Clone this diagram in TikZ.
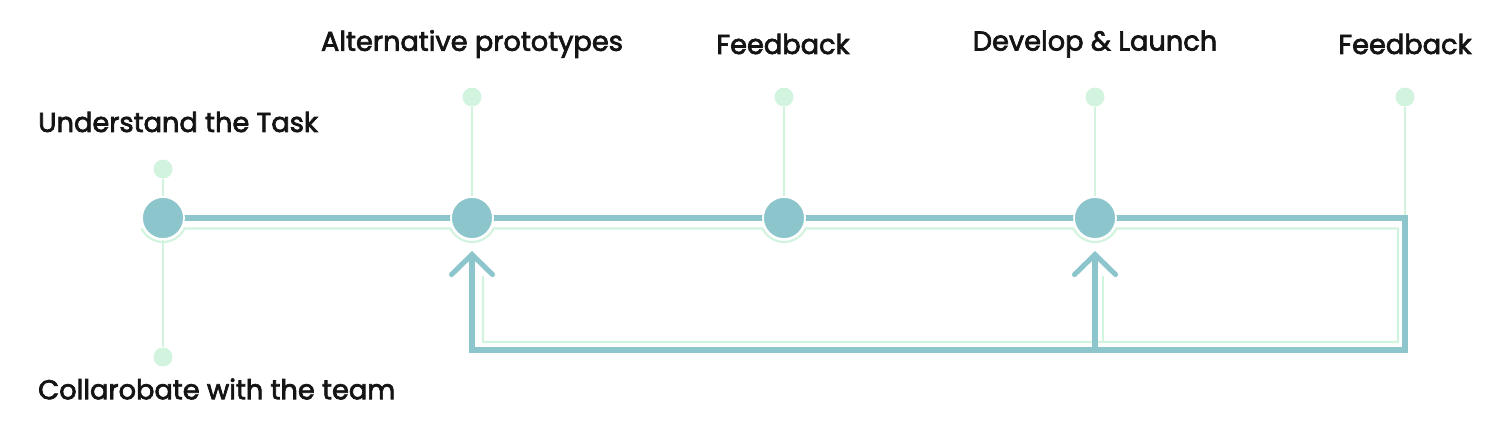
\documentclass[tikz,border=0pt]{standalone}
\usepackage{fontspec}
\setmainfont{Poppins}[FakeBold=2.6]
\usetikzlibrary{arrows.meta,backgrounds}
\definecolor{petrol}{RGB}{140,198,204}
\definecolor{mint}{RGB}{210,243,222}
\def \radiusBogen {0.48cm}
\def \pfeilSpitze {Straight Barb[length=0.4cm,width=0.82cm,line cap=round]}

\begin{document}
\begin{tikzpicture}[x=0.02cm,y=-0.02cm,
  punkt/.style={circle,fill=petrol,draw=white,line width=1pt,minimum size=0.84cm,inner sep=0pt},
  tupfen/.style={circle,fill=mint,minimum size=0.38cm,inner sep=0pt},
  titel/.style={font=\fontsize{15.5}{18}\selectfont,text=black!92},
  dick/.style={draw=petrol,line width=2.9pt},
  duenn/.style={draw=mint,line width=1.2pt}]
  \useasboundingbox (0,0) rectangle (1510,433);
  % Haltepunkte auf der Zeitachse
  \node[punkt] (task) at (163,218) {};
  \node[punkt] (proto) at (472,218) {};
  \node[punkt] (fb-eins) at (784,218) {};
  \node[punkt] (launch) at (1095,218) {};
  % kleine Tupfen an den Stielen
  \node[tupfen] (task-oben) at (163,169) {};
  \node[tupfen] (task-unten) at (163,357) {};
  \node[tupfen] (proto-oben) at (472,97) {};
  \node[tupfen] (fb-eins-oben) at (784,97) {};
  \node[tupfen] (launch-oben) at (1095,97) {};
  \node[tupfen] (fb-zwei-oben) at (1405,97) {};
  % Beschriftungen
  \node[titel,anchor=west] (l-task) at (32,122) {Understand the Task};
  \node[titel,anchor=west] (l-team) at (32,389) {Collarobate with the team};
  \node[titel] (l-proto) at (472,44) {Alternative prototypes};
  \node[titel] (l-fb-eins) at (783,44) {Feedback};
  \node[titel] (l-launch) at (1095,44) {Develop \& Launch};
  \node[titel] (l-fb-zwei) at (1405,44) {Feedback};
  % Ecken der Schleifen
  \coordinate (ecke-oben) at (1405,218);
  \coordinate (ecke-unten) at (1405,350);
  \coordinate (ecke-links) at (472,350);
  \coordinate (ecke-mitte) at (1095,350);
  \coordinate (spitze-proto) at (472,251);
  \coordinate (spitze-launch) at (1095,251);
  \coordinate (mint-oben) at (1398,228.5);
  \coordinate (mint-unten) at (1398,342);
  \coordinate (mint-links) at (483,342);
  \coordinate (mint-proto) at (483,276);
  \coordinate (mint-mitte) at (1103,342);
  \coordinate (mint-launch) at (1103,276);

  \begin{scope}[on background layer]
  \draw[duenn] (task-oben) -- (task) -- (task-unten);
  \draw[duenn] (proto-oben) -- (proto);
  \draw[duenn] (fb-eins-oben) -- (fb-eins);
  \draw[duenn] (launch-oben) -- (launch);
  \draw[duenn] (fb-zwei-oben) -- (ecke-oben);
  \draw[duenn]
    ([shift={(206:\radiusBogen)}]task.center) arc[start angle=206,end angle=334,radius=\radiusBogen]
    -- ([shift={(206:\radiusBogen)}]proto.center) arc[start angle=206,end angle=334,radius=\radiusBogen]
    -- ([shift={(206:\radiusBogen)}]fb-eins.center) arc[start angle=206,end angle=334,radius=\radiusBogen]
    -- ([shift={(206:\radiusBogen)}]launch.center) arc[start angle=206,end angle=334,radius=\radiusBogen]
    -- (mint-oben) -- (mint-unten) -- (mint-links) -- (mint-proto);
  \draw[duenn] (mint-mitte) -- (mint-launch);
  \draw[dick,-{\pfeilSpitze}] (task.center) -- (ecke-oben) -- (ecke-unten) -- (ecke-links) -- (spitze-proto);
  \draw[dick,-{\pfeilSpitze}] (ecke-mitte) -- (spitze-launch);
  \end{scope}
\end{tikzpicture}
\end{document}
